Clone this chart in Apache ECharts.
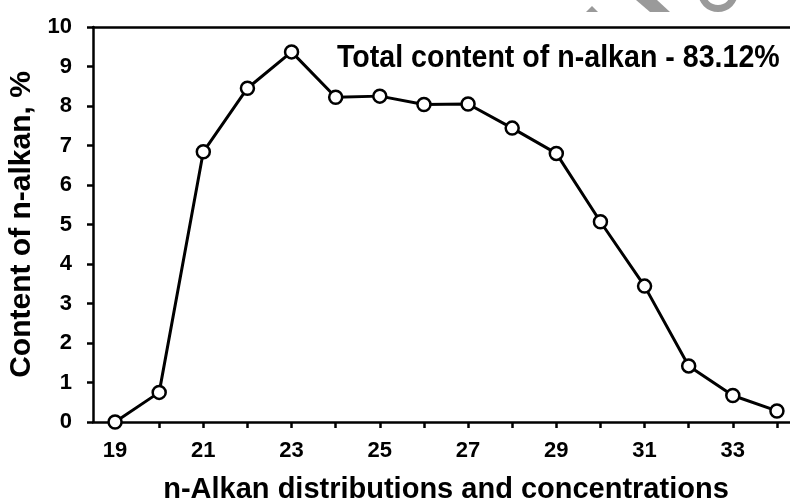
<!DOCTYPE html>
<html>
<head>
<meta charset="utf-8">
<script src="https://cdn.jsdelivr.net/npm/echarts@6/dist/echarts.min.js"></script>
<style>
  html, body { margin: 0; padding: 0; background: #fff; }
  #chart { width: 790px; height: 504px; }
</style>
</head>
<body>
<div id="chart"></div>
<script>
// ---- Data ----
const categories = ['19','20','21','22','23','24','25','26','27','28','29','30','31','32','33','34'];
const contentValues = [0, 0.75, 6.84, 8.45, 9.37, 8.22, 8.25, 8.04, 8.05, 7.44, 6.80, 5.07, 3.44, 1.42, 0.67, 0.28];
const yTicks = { min: 0, max: 10, interval: 1 };
const xAxisTitle = 'n-Alkan distributions and concentrations';
const yAxisTitle = 'Content of n-alkan, %';
const annotationText = 'Total content of n-alkan - 83.12%';

const FONT = '"Liberation Sans", Arial, Helvetica, sans-serif';
const chart = echarts.init(document.getElementById('chart'), null, { renderer: 'canvas' });

chart.setOption({
  backgroundColor: '#ffffff',
  animation: false,
  grid: { left: 93, right: -9, top: 27, bottom: 82, containLabel: false, outerBoundsMode: 'none' },
  xAxis: [{
    type: 'category',
    data: categories,
    boundaryGap: true,
    position: 'bottom',
    name: xAxisTitle,
    nameLocation: 'middle',
    nameGap: 53,
    nameTextStyle: { fontFamily: FONT, fontWeight: 'bold', fontSize: 29, color: '#000' },
    axisLine: { show: true, lineStyle: { color: '#000', width: 2.5 } },
    axisTick: { show: true, interval: 0, alignWithLabel: true, inside: false, length: 6, lineStyle: { color: '#000', width: 2.5 } },
    axisLabel: { interval: 1, margin: 18, fontFamily: FONT, fontWeight: 'bold', fontSize: 22, color: '#000' },
    splitLine: { show: false }
  }, {
    type: 'category',
    data: categories,
    position: 'top',
    axisLine: { show: true, lineStyle: { color: '#000', width: 2.5 } },
    axisTick: { show: false },
    axisLabel: { show: false },
    splitLine: { show: false }
  }],
  yAxis: {
    type: 'value',
    min: yTicks.min,
    max: yTicks.max,
    interval: yTicks.interval,
    name: yAxisTitle,
    nameLocation: 'middle',
    nameGap: 55,
    nameTextStyle: { fontFamily: FONT, fontWeight: 'bold', fontSize: 30, color: '#000' },
    axisLine: { show: true, lineStyle: { color: '#000', width: 2.5 } },
    axisTick: { show: true, inside: false, length: 6, lineStyle: { color: '#000', width: 2.5 } },
    axisLabel: { margin: 21, fontFamily: FONT, fontWeight: 'bold', fontSize: 22, color: '#000' },
    splitLine: { show: false }
  },
  series: [{
    type: 'line',
    data: contentValues,
    symbol: 'circle',
    symbolSize: 13,
    showAllSymbol: true,
    lineStyle: { color: '#000', width: 3 },
    itemStyle: { color: '#fff', borderColor: '#000', borderWidth: 2.5 },
    z: 5
  }],
  graphic: [
    {
      type: 'text',
      z: 10,
      x: 337, y: 58,
      scaleY: 1.1,
      style: {
        x: 0, y: 0,
        text: annotationText,
        textAlign: 'left',
        textVerticalAlign: 'middle',
        font: 'bold 28.6px ' + FONT,
        fill: '#000'
      }
    },
    // faint watermark fragments at top edge
    { type: 'polygon', z: 0, shape: { points: [[592, 6], [586, 12], [598, 12]] }, style: { fill: '#9a9a9a' } },
    { type: 'polygon', z: 0, shape: { points: [[636, 0], [657, 0], [670, 12], [650, 12]] }, style: { fill: '#9a9a9a' } },
    { type: 'ring', z: 0, shape: { cx: 718, cy: -8, r: 20, r0: 13 }, style: { fill: '#9a9a9a' } }
  ]
});
</script>
</body>
</html>
